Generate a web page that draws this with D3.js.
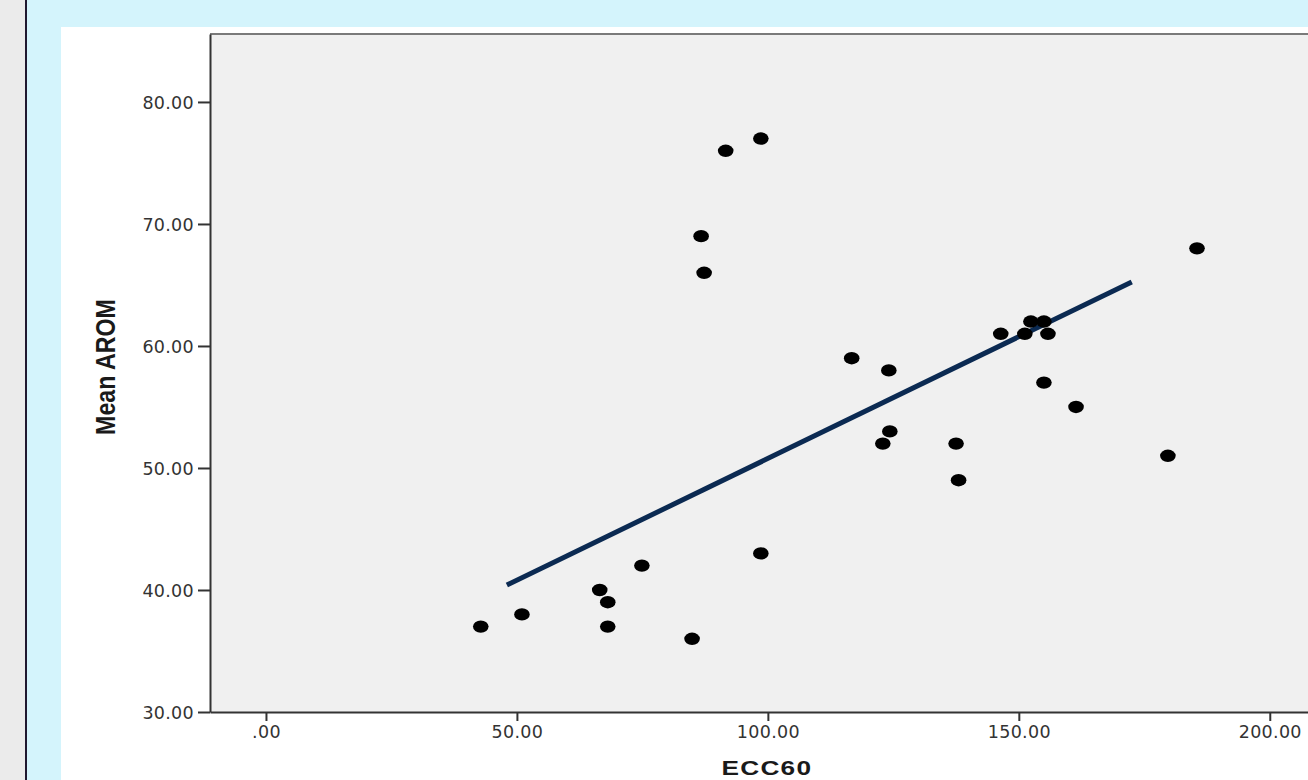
<!DOCTYPE html>
<html>
<head>
<meta charset="utf-8">
<script src="https://cdn.jsdelivr.net/npm/d3@7"></script>
<style>
  body { margin: 0; overflow: hidden; background: #ebebeb; }
  svg { display: block; }
  .tick text { font-family: "DejaVu Sans", Verdana, sans-serif; font-size: 17.5px; fill: #333; letter-spacing: 0.3px; }
</style>
</head>
<body>
<script>
// ECC60 vs Mean AROM
let ecc60 = [42.8, 51.0, 66.5, 68.1, 68.1, 74.9, 84.9, 98.6, 86.7, 87.3, 91.6, 98.6,
             116.7, 124.1, 124.3, 122.9, 137.5, 138.0, 146.4, 151.2, 152.4, 155.0,
             155.8, 155.0, 161.4, 179.7, 185.5];
let meanArom = [37, 38, 40, 39, 37, 42, 36, 43, 69, 66, 76, 77,
                59, 58, 53, 52, 52, 49, 61, 61, 62, 62,
                61, 57, 55, 51, 68];

// fit line end points
let fitX = [48.0, 172.5];
let fitY = [40.4, 65.25];

let xTicks = [0, 50, 100, 150, 200];
let yTicks = [30, 40, 50, 60, 70, 80];

let width = 1308;
let height = 780;

let svg = d3.select("body").append("svg")
    .attr("width", width)
    .attr("height", height);

// page chrome
svg.append("rect").attr("x", 0).attr("y", 0).attr("width", width).attr("height", height).attr("fill", "#ebebeb");
svg.append("rect").attr("x", 27).attr("y", 0).attr("width", width - 27).attr("height", height).attr("fill", "#d4f4fc");
svg.append("rect").attr("x", 25).attr("y", 0).attr("width", 2).attr("height", height).attr("fill", "#201830");
svg.append("rect").attr("x", 61).attr("y", 27).attr("width", width - 61).attr("height", height - 27).attr("fill", "#ffffff");

let plotL = 210, plotT = 34, plotR = 1330, plotB = 712;

let x = d3.scaleLinear().domain([-11.15, 212.0]).range([plotL, plotR]);
let y = d3.scaleLinear().domain([30, 85.57]).range([plotB, plotT]);

svg.append("rect")
    .attr("x", plotL).attr("y", plotT)
    .attr("width", plotR - plotL).attr("height", plotB - plotT)
    .attr("fill", "#f0f0f0");

// top frame line
svg.append("line")
    .attr("x1", plotL).attr("x2", plotR)
    .attr("y1", plotT).attr("y2", plotT)
    .attr("stroke", "#7a7a7a").attr("stroke-width", 2);

let fmt = d => d === 0 ? ".00" : d.toFixed(2);

let xAxis = svg.append("g")
    .attr("transform", `translate(0,${plotB})`)
    .call(d3.axisBottom(x).tickValues(xTicks).tickFormat(fmt).tickSize(9).tickPadding(5).tickSizeOuter(0));
xAxis.select(".domain").attr("stroke", "#333").attr("stroke-width", 2);
xAxis.selectAll(".tick line").attr("stroke", "#333").attr("stroke-width", 2);

let yAxis = svg.append("g")
    .attr("transform", `translate(${plotL},0)`)
    .call(d3.axisLeft(y).tickValues(yTicks).tickFormat(fmt).tickSize(12).tickPadding(4).tickSizeOuter(0));
yAxis.select(".domain").attr("stroke", "#333").attr("stroke-width", 2);
yAxis.selectAll(".tick line").attr("stroke", "#333").attr("stroke-width", 2);
yAxis.selectAll(".tick text").attr("dy", "0.38em");

// fit line
svg.append("line")
    .attr("x1", x(fitX[0])).attr("y1", y(fitY[0]))
    .attr("x2", x(fitX[1])).attr("y2", y(fitY[1]))
    .attr("stroke", "#0b2a52")
    .attr("stroke-width", 5);

// points
let points = ecc60.map((v, i) => ({ x: v, y: meanArom[i] }));
svg.selectAll(".dot")
    .data(points)
    .join("ellipse")
    .attr("class", "dot")
    .attr("cx", d => x(d.x))
    .attr("cy", d => y(d.y))
    .attr("rx", 7.8)
    .attr("ry", 6.2)
    .attr("fill", "#000");

// axis titles
svg.append("text")
    .attr("transform", `translate(${x(100) - 1},775) scale(1.25,1)`)
    .attr("text-anchor", "middle")
    .attr("font-family", "Liberation Sans, Arial, sans-serif")
    .attr("font-weight", "bold")
    .attr("font-size", 21)
    .attr("letter-spacing", 1)
    .attr("fill", "#1a1a1a")
    .text("ECC60");

svg.append("text")
    .attr("transform", `translate(115,367) rotate(-90) scale(0.86,1)`)
    .attr("text-anchor", "middle")
    .attr("font-family", "Liberation Sans, Arial, sans-serif")
    .attr("font-weight", "bold")
    .attr("font-size", 27)
    .attr("fill", "#1a1a1a")
    .text("Mean AROM");
</script>
</body>
</html>
